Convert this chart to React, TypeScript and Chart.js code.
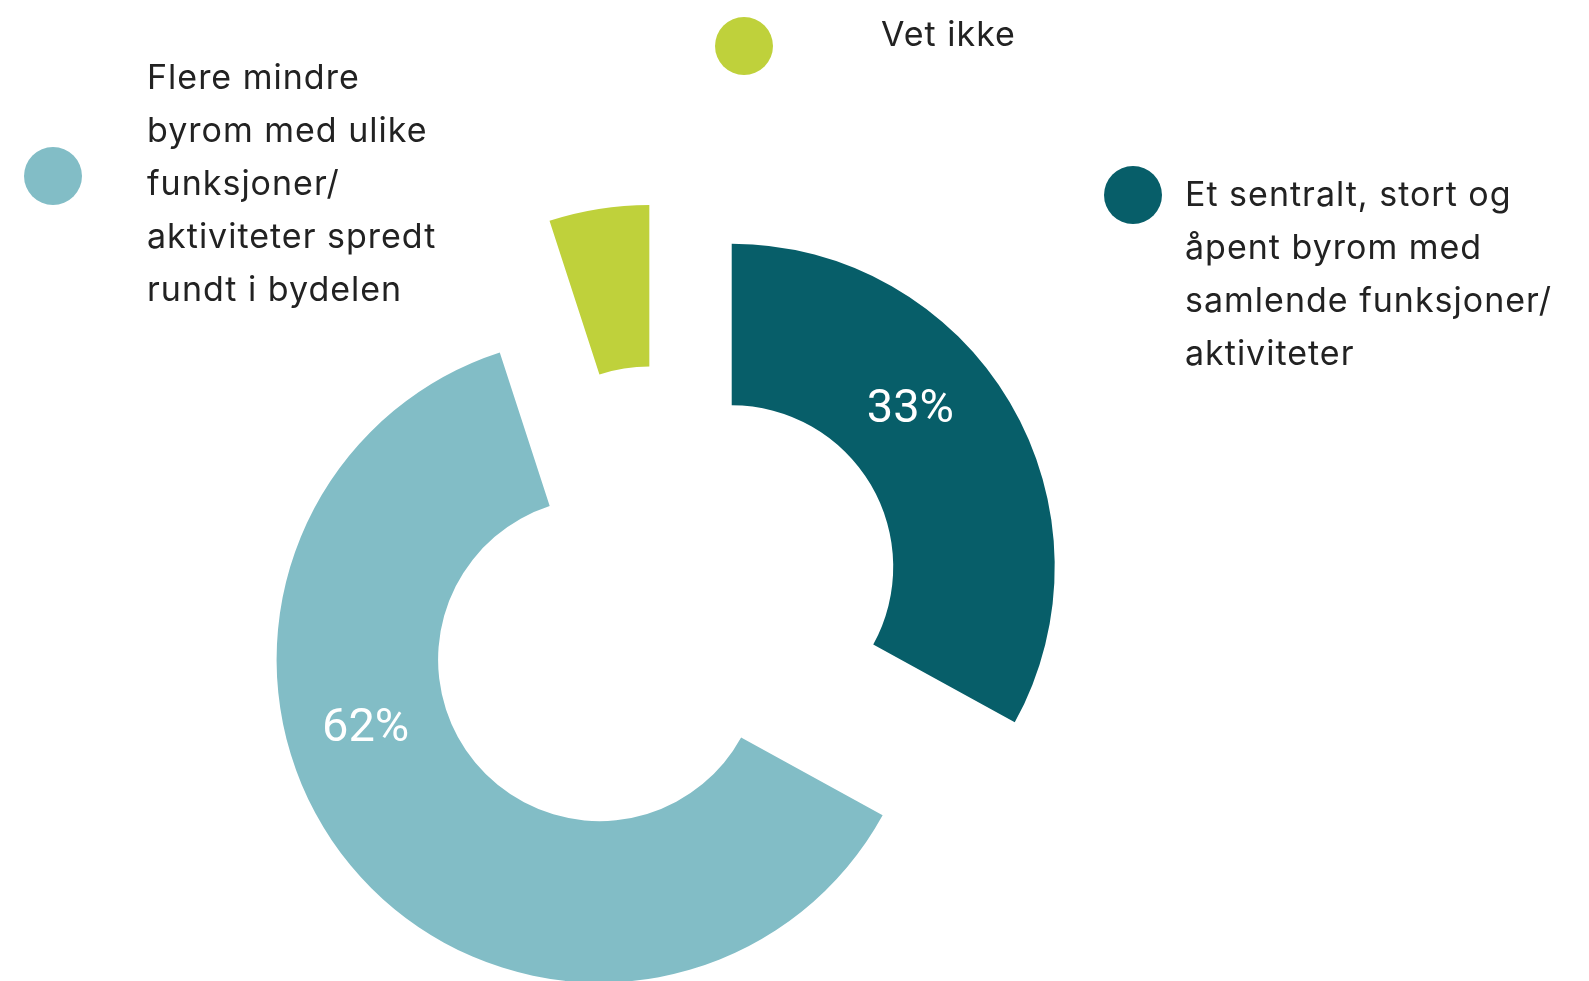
import React, { useEffect, useRef } from "react";
import { Chart, registerables } from "chart.js";

Chart.register(...registerables);

// ---- data ----
const categories: string[][] = [
  ["Et sentralt, stort og", "åpent byrom med", "samlende funksjoner/", "aktiviteter"],
  ["Flere mindre", "byrom med ulike", "funksjoner/", "aktiviteter spredt", "rundt i bydelen"],
  ["Vet ikke"],
];
const values = [33, 62, 5];
const valueLabels = ["33%", "62%", ""];
const colors = ["#075e69", "#82bdc6", "#bfd13b"];

// ---- layout / style ----
const W = 1589;
const H = 981;
const EXPLODE = 81;
const labelFraction = [0.4, 0.61, 0.5];
const legendPos = [
  { cx: 1133, cy: 195, tx: 1185, ty: 206 },
  { cx: 53, cy: 176, tx: 147, ty: 89 },
  { cx: 744, cy: 46, tx: 881, ty: 46 },
];
const LINE_H = 53;
const LEGEND_FONT = "34px Inter, 'Noto Sans', sans-serif";
const VALUE_FONT = "47px Roboto, 'Noto Sans', sans-serif";

const explodePlugin = {
  id: "explode",
  beforeDatasetsDraw(chart: any) {
    const ca = chart.chartArea;
    const cx = (ca.left + ca.right) / 2;
    const cy = (ca.top + ca.bottom) / 2;
    chart.getDatasetMeta(0).data.forEach((arc: any) => {
      const mid = (arc.startAngle + arc.endAngle) / 2;
      arc.x = cx + Math.cos(mid) * EXPLODE;
      arc.y = cy + Math.sin(mid) * EXPLODE;
    });
  },
  afterDatasetsDraw(chart: any) {
    const ctx: any = chart.ctx;
    const meta = chart.getDatasetMeta(0);
    ctx.save();
    // value labels
    ctx.fillStyle = "#ffffff";
    ctx.font = VALUE_FONT;
    ctx.textAlign = "center";
    ctx.textBaseline = "middle";
    meta.data.forEach((arc: any, i: number) => {
      const txt = valueLabels[i];
      if (!txt) return;
      const a = arc.startAngle + (arc.endAngle - arc.startAngle) * labelFraction[i];
      const r = (arc.innerRadius + arc.outerRadius) / 2;
      ctx.fillText(txt, arc.x + Math.cos(a) * r, arc.y + Math.sin(a) * r + 7);
    });
    // legend
    ctx.textAlign = "left";
    ctx.textBaseline = "alphabetic";
    ctx.font = LEGEND_FONT;
    ctx.letterSpacing = "1px";
    categories.forEach((lines, i) => {
      const p = legendPos[i];
      ctx.fillStyle = colors[i];
      ctx.beginPath();
      ctx.arc(p.cx, p.cy, 29, 0, Math.PI * 2);
      ctx.fill();
      ctx.fillStyle = "#222222";
      lines.forEach((ln, j) => ctx.fillText(ln, p.tx, p.ty + j * LINE_H));
    });
    ctx.restore();
  },
};

export default function App() {
  const ref = useRef<HTMLCanvasElement | null>(null);
  useEffect(() => {
    if (!ref.current) return;
    const chart = new Chart(ref.current, {
      type: "doughnut",
      data: {
        labels: categories,
        datasets: [
          {
            data: values,
            backgroundColor: colors,
            borderWidth: 0,
            clip: false as any,
          },
        ],
      },
      options: {
        responsive: false,
        animation: false,
        events: [],
        radius: 323,
        cutout: "50%",
        layout: { padding: { left: 0, right: 265, top: 235, bottom: 0 } },
        plugins: {
          legend: { display: false },
          tooltip: { enabled: false },
        },
      } as any,
      plugins: [explodePlugin],
    });
    return () => chart.destroy();
  }, []);
  return (
    <div style={{ position: "absolute", left: 0, top: 0, width: W, height: H, background: "#fff" }}>
      <canvas ref={ref} width={W} height={H} style={{ width: W, height: H, display: "block" }} />
    </div>
  );
}
